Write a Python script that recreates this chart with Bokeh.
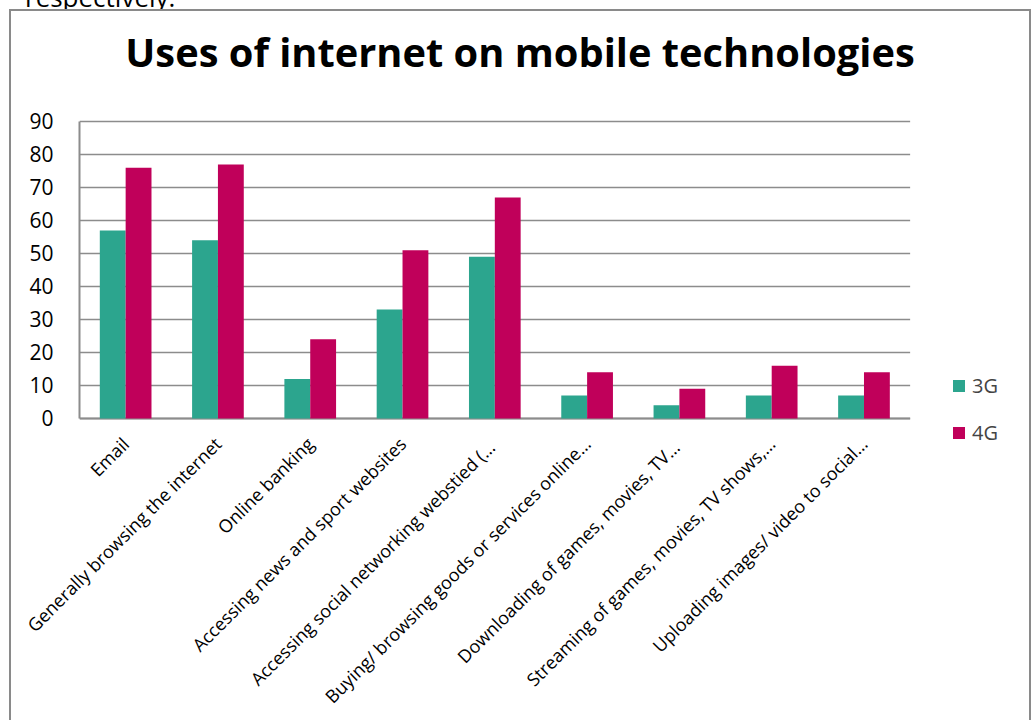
import math
from bokeh.plotting import figure
from bokeh.models import Range1d, Legend, LegendItem, Div, FixedTicker
from bokeh.layouts import column
from bokeh.embed import file_html
from bokeh.resources import INLINE

categories = [
    "Email",
    "Generally browsing the internet",
    "Online banking",
    "Accessing news and sport websites",
    "Accessing social  networking webstied (…",
    "Buying/ browsing goods or services online…",
    "Downloading  of games, movies, TV…",
    "Streaming of games, movies, TV shows,…",
    "Uploading images/ video to social…",
]
series_3g = [57, 54, 12, 33, 49, 7, 4, 7, 7]
series_4g = [76, 77, 24, 51, 67, 14, 9, 16, 14]
y_ticks = [0, 10, 20, 30, 40, 50, 60, 70, 80, 90]
series_names = ["3G", "4G"]

title_text = "Uses of internet on mobile technologies"
FONT = "Open Sans"
GRID = "#8c8c8c"
C3G = "#2ca58e"
C4G = "#c0005a"

n = len(categories)
centers = [i + 0.5 for i in range(n)]
BAR_W = 0.28
x3 = [c - BAR_W / 2 for c in centers]
x4 = [c + BAR_W / 2 for c in centers]
y_max = y_ticks[-1]

p = figure(
    x_range=Range1d(0, 10.25),
    y_range=Range1d(-8.788, 90.606),
    width=1018, height=629,
    output_backend="svg", toolbar_location=None,
    min_border_left=68, min_border_right=4,
    min_border_top=28, min_border_bottom=273,
)
p.margin = (0, 0, 0, 0)

# horizontal gridlines over the category span
p.segment(x0=[0] * len(y_ticks), x1=[n] * len(y_ticks), y0=y_ticks, y1=y_ticks,
          line_color=GRID, line_width=1.5)
# category axis line at zero
p.segment(x0=[0], x1=[n], y0=[y_ticks[0]], y1=[y_ticks[0]],
          line_color=GRID, line_width=2)

r3 = p.vbar(x=x3, top=series_3g, width=BAR_W, color=C3G, line_color=None)
r4 = p.vbar(x=x4, top=series_4g, width=BAR_W, color=C4G, line_color=None)

p.outline_line_color = None
p.xgrid.grid_line_color = None
p.ygrid.grid_line_color = None

p.yaxis.ticker = FixedTicker(ticks=y_ticks)
p.yaxis.bounds = (0, y_max)
p.xaxis.ticker = FixedTicker(ticks=centers)
p.xaxis.major_label_overrides = {c: lab for c, lab in zip(centers, categories)}
p.xaxis.axis_line_color = None

for ax in (p.xaxis, p.yaxis):
    ax.major_tick_line_color = None
    ax.minor_tick_line_color = None
    ax.major_tick_out = 0
    ax.major_tick_in = 0
    ax.major_label_text_font = FONT
    ax.major_label_text_color = "black"

p.yaxis.axis_line_color = GRID
p.yaxis.axis_line_width = 2
p.yaxis.major_label_text_font_size = "21px"
p.yaxis.major_label_standoff = 26
p.xaxis.major_label_text_font_size = "18px"
p.xaxis.major_label_orientation = math.pi / 4
p.xaxis.major_label_standoff = -7

legend = Legend(
    items=[LegendItem(label=series_names[0], renderers=[r3]),
           LegendItem(label=series_names[1], renderers=[r4])],
    location=(872, 1),
    orientation="vertical",
    glyph_width=15, glyph_height=15,
    label_height=24, spacing=20, padding=0, margin=0,
    label_standoff=6,
    label_text_font=FONT, label_text_font_size="20px",
    border_line_color=None, background_fill_alpha=0,
)
p.add_layout(legend)

title_div = Div(
    text=('<div style="width:1018px;text-align:center;margin-top:11px;'
          'font-family:\'Open Sans\';font-size:39.8px;font-weight:bold;'
          'line-height:60px;color:black;white-space:nowrap;">' + title_text + '</div>'),
    width=1018, height=80,
)
title_div.margin = (0, 0, 0, 0)

box = column(title_div, p, spacing=0)
box.margin = (0, 0, 0, 9)
box.styles = {
    "border-left": "2px solid #8a8a8a",
    "border-top": "2px solid #8a8a8a",
    "border-right": "2px solid #8a8a8a",
}

top_text = Div(
    text='<div style="position:relative;top:-21px;left:25px;font-family:\'Open Sans\';font-size:26px;color:black;line-height:36px;white-space:nowrap;">respectively.</div>',
    width=1035, height=9,
    styles={"overflow": "hidden"},
)
top_text.margin = (0, 0, 0, 0)

layout = column(top_text, box, spacing=0)
open("out.html", "w").write(file_html(layout, INLINE))
